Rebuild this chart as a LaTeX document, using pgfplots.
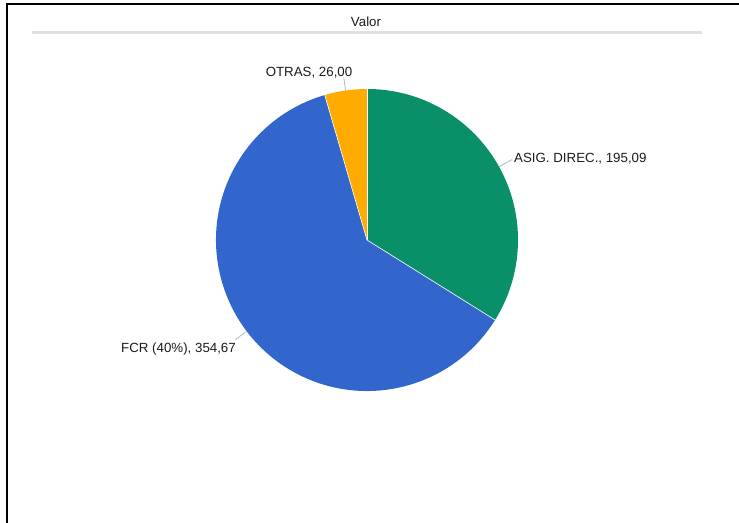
\documentclass[border=0pt]{standalone}
\usepackage{fontspec}
\setmainfont{Liberation Sans}
\usepackage{pgfplots}
\pgfplotsset{compat=1.18}
\usepackage{pgfplotstable}
\definecolor{cA}{RGB}{10,144,104}
\definecolor{cB}{RGB}{51,102,204}
\definecolor{cC}{RGB}{255,171,0}
\definecolor{leader}{RGB}{170,184,204}
\definecolor{txt}{RGB}{26,26,26}
\definecolor{sep}{RGB}{224,224,230}
% values
\pgfplotstableread{
label value
A 195.09
B 354.67
C 26.00
}\piedata
\pgfplotstablegetelem{0}{value}\of\piedata \let\vA\pgfplotsretval
\pgfplotstablegetelem{1}{value}\of\piedata \let\vB\pgfplotsretval
\pgfplotstablegetelem{2}{value}\of\piedata \let\vC\pgfplotsretval
\pgfmathsetmacro\tot{\vA+\vB+\vC}
\pgfmathsetmacro\sA{90}
\pgfmathsetmacro\eA{\sA-360*(\vA/\tot)}
\pgfmathsetmacro\eB{\eA-360*(\vB/\tot)}
\pgfmathsetmacro\eC{\eB-360*(\vC/\tot)}
\pgfmathsetmacro\mA{(\sA+\eA)/2}
\pgfmathsetmacro\mB{(\eA+\eB)/2}
\pgfmathsetmacro\mC{(\eB+\eC)/2}
\begin{document}
\fontsize{13.3bp}{16bp}\selectfont
\begin{tikzpicture}
\path[use as bounding box] (0,0) rectangle (739bp,523bp);
\draw[line width=2bp,black] (7bp,0) -- (7bp,519bp) -- (739bp,519bp);
\begin{axis}[
  at={(0,0)}, anchor=south west,
  width=739bp, height=523bp, scale only axis,
  xmin=0, xmax=739, ymin=0, ymax=523,
  hide axis, clip=false,
]
\fill[cA] (axis cs:367,283) -- ++(\sA:151bp) arc[start angle=\sA, end angle=\eA, radius=151bp] -- cycle;
\fill[cB] (axis cs:367,283) -- ++(\eA:151bp) arc[start angle=\eA, end angle=\eB, radius=151bp] -- cycle;
\fill[cC] (axis cs:367,283) -- ++(\eB:151bp) arc[start angle=\eB, end angle=\eC, radius=151bp] -- cycle;
\draw[white, line width=0.6bp] (axis cs:367,283) -- ++(\sA:151bp);
\draw[white, line width=0.6bp] (axis cs:367,283) -- ++(\eA:151bp);
\draw[white, line width=0.6bp] (axis cs:367,283) -- ++(\eB:151bp);
\draw[leader, line width=0.8bp] (axis cs:367,283) ++(\mA:151bp) -- ++(\mA:15bp);
\draw[leader, line width=0.8bp] (axis cs:367,283) ++(\mB:151bp) -- ++(\mB:14bp);
\draw[leader, line width=0.8bp] (axis cs:367,283) ++(\mC:151bp) -- ++(\mC:13bp);
\node[anchor=base west, inner sep=0pt, text=txt] at (axis cs:514,360) {ASIG. DIREC., 195,09};
\node[anchor=base east, inner sep=0pt, text=txt] at (axis cs:236,170) {FCR (40\%), 354,67};
\node[anchor=base, inner sep=0pt, text=txt] at (axis cs:309,446) {OTRAS, 26,00};
\node[anchor=base, inner sep=0pt, text=txt] at (axis cs:366,496.5) {Valor};
\draw[sep, line width=3bp] (axis cs:32,490.5) -- (axis cs:702,490.5);
\end{axis}
\end{tikzpicture}
\end{document}
